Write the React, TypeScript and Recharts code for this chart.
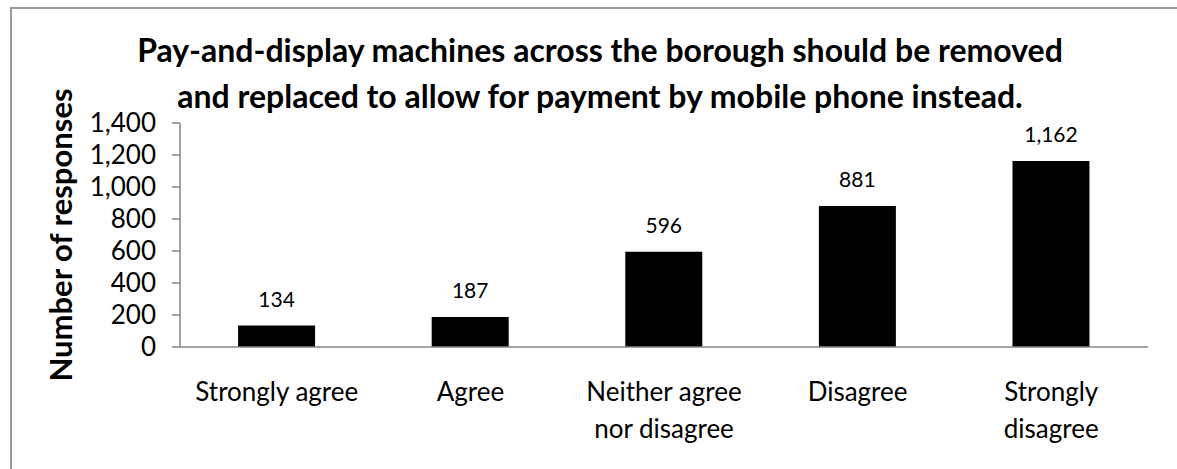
import { BarChart, Bar, XAxis, YAxis, LabelList } from "recharts";

const categories = [
  "Strongly agree",
  "Agree",
  "Neither agree\nnor disagree",
  "Disagree",
  "Strongly\ndisagree",
];
const responses = [134, 187, 596, 881, 1162];
const yTicks = [0, 200, 400, 600, 800, 1000, 1200, 1400];
const edgeTicks = [0, 1, 2, 3, 4, 5];

const titleLines = [
  "Pay-and-display machines across the borough should be removed",
  "and replaced to allow for payment by mobile phone instead.",
];
const yLabel = "Number of responses";

const data = categories.map((name, i) => ({ name, value: responses[i] }));

const fmt = (v: number) => v.toLocaleString("en-US");
const FONT = "Lato, 'Open Sans', sans-serif";
const AXIS = "#868686";

function CategoryTick(props: any) {
  const { x, y, payload } = props;
  const lines = String(payload.value).split("\n");
  return (
    <text x={x} y={y} textAnchor="middle" fontSize={26} fill="#000" fontFamily={FONT}>
      {lines.map((l, i) => (
        <tspan key={i} x={x} dy={i === 0 ? 46 : 37}>
          {l}
        </tspan>
      ))}
    </text>
  );
}

export default function App() {
  return (
    <div style={{ position: "absolute", left: 0, top: 0, width: 1177, height: 469, overflow: "hidden", background: "#fff" }}>
      <div
        style={{
          position: "absolute",
          left: 10,
          top: 7,
          width: 1200,
          height: 500,
          border: "2px solid #9a9a9a",
        }}
      />
      <div style={{ position: "absolute", left: 0, top: 0 }}>
        <BarChart
          width={1177}
          height={469}
          data={data}
          margin={{ top: 123, right: 29, bottom: 62, left: 80 }}
          barCategoryGap="30%"
        >
          <text x={600} fontFamily={FONT} fontWeight={700} fontSize={32} textAnchor="middle" fill="#000">
            {titleLines.map((l, i) => (
              <tspan key={i} x={600} y={62 + i * 46}>
                {l}
              </tspan>
            ))}
          </text>
          <text
            x={72}
            y={235}
            transform="rotate(-90 72 235)"
            textAnchor="middle"
            fontFamily={FONT}
            fontWeight={700}
            fontSize={31}
            fill="#000"
          >
            {yLabel}
          </text>
          <XAxis
            xAxisId="edge"
            type="number"
            dataKey="none"
            domain={[0, 5]}
            ticks={edgeTicks}
            interval={0}
            height={0}
            axisLine={false}
            tick={false}
            tickLine={{ stroke: AXIS, strokeWidth: 1.5 }}
            tickSize={8}
          />
          <XAxis
            xAxisId="cat"
            dataKey="name"
            height={60}
            interval={0}
            tickLine={false}
            axisLine={{ stroke: AXIS, strokeWidth: 1.5 }}
            tick={<CategoryTick />}
          />
          <YAxis
            width={100}
            domain={[0, 1400]}
            ticks={yTicks}
            interval={0}
            tickFormatter={fmt}
            axisLine={{ stroke: AXIS, strokeWidth: 1.5 }}
            tickLine={{ stroke: AXIS, strokeWidth: 1.5 }}
            tickSize={8}
            tickMargin={16}
            tick={{ fill: "#000", fontSize: 26, fontFamily: FONT }}
          />
          <Bar dataKey="value" xAxisId="cat" fill="#000" isAnimationActive={false}>
            <LabelList
              dataKey="value"
              position="top"
              offset={19}
              formatter={(v: any) => fmt(Number(v))}
              fill="#000"
              fontSize={21}
              fontFamily={FONT}
            />
          </Bar>
        </BarChart>
      </div>
    </div>
  );
}
